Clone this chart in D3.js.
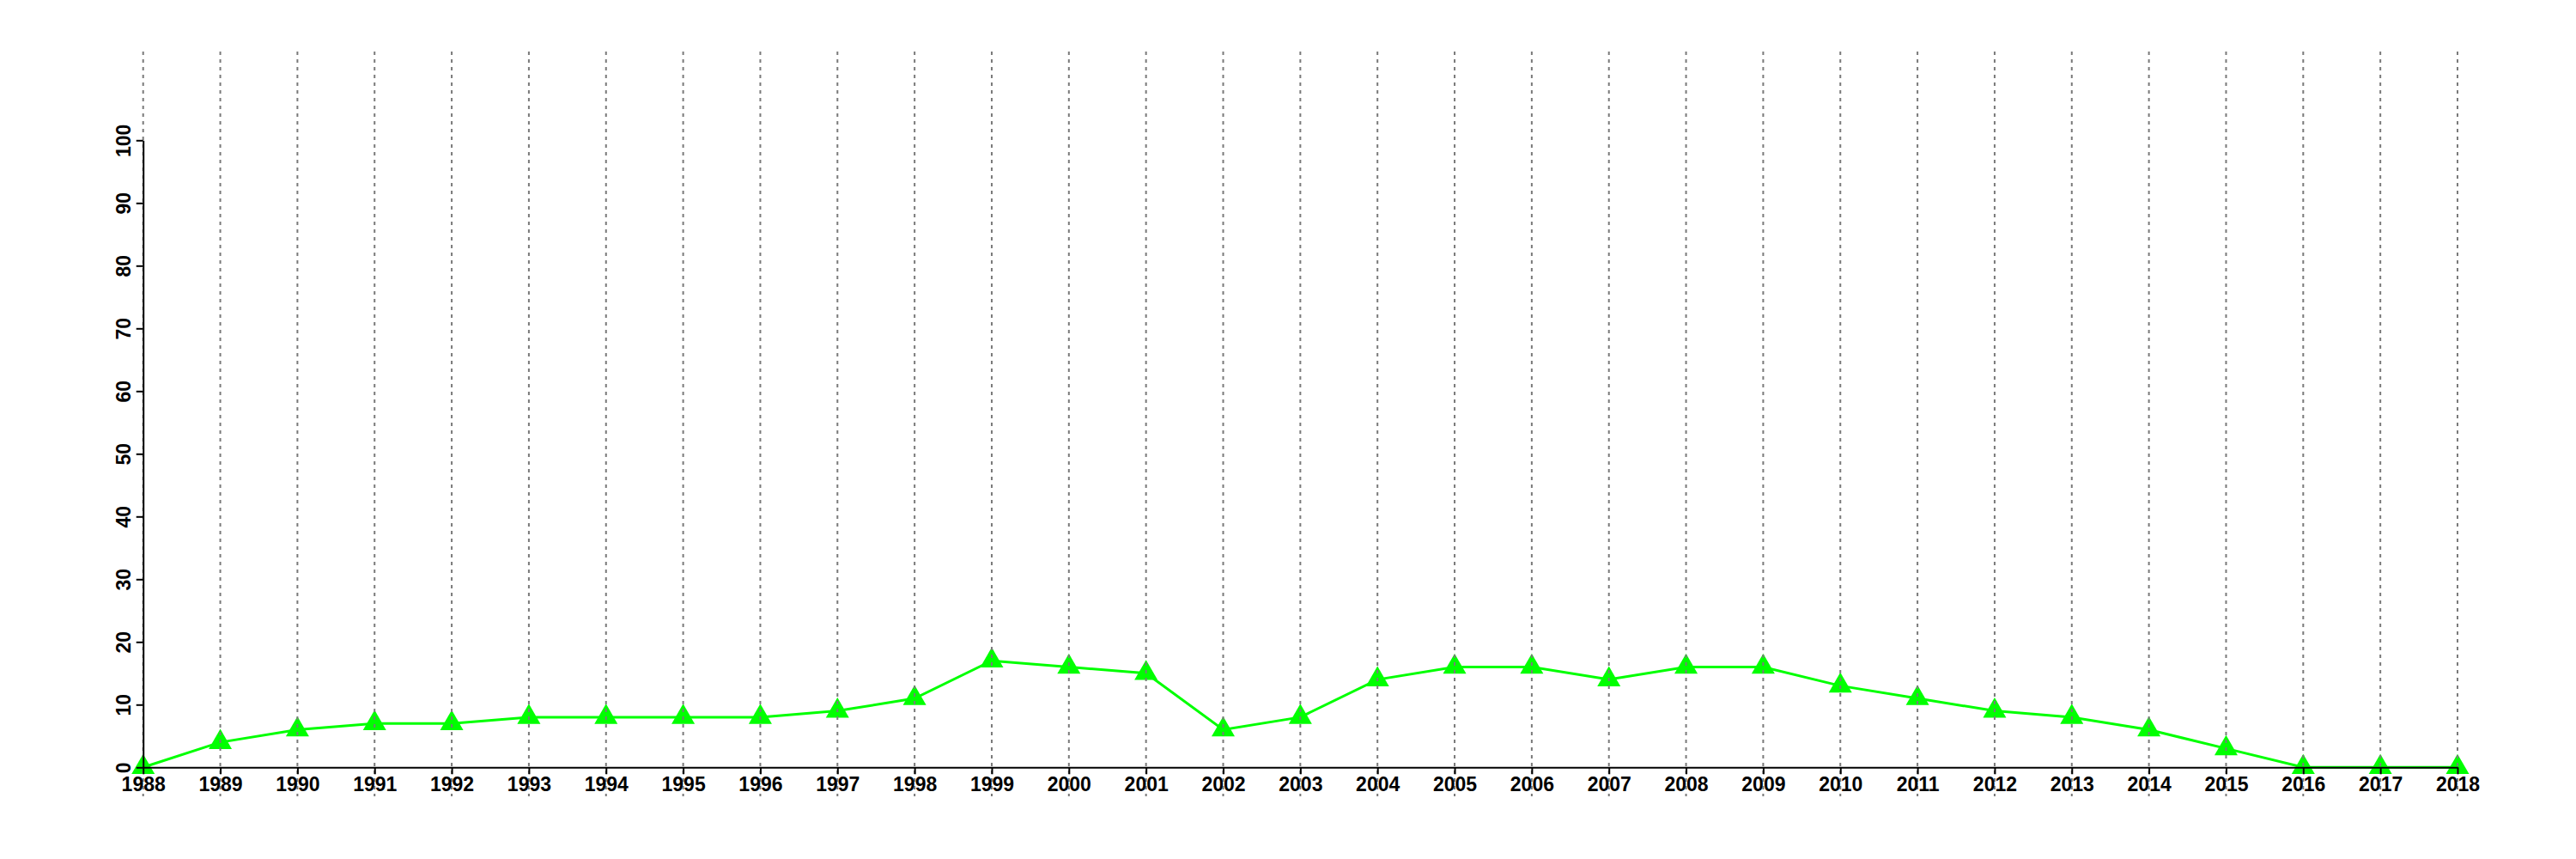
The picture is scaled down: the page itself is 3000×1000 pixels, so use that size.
<!DOCTYPE html>
<html>
<head>
<meta charset="utf-8">
<script src="https://cdn.jsdelivr.net/npm/d3@7"></script>
<style>
  html, body { margin: 0; padding: 0; background: #fff; }
  svg { display: block; }
  text { font-family: "Liberation Sans", Arial, sans-serif; font-weight: bold; }
</style>
</head>
<body>
<svg id="chart" width="3000" height="1000"></svg>
<script>
const years = [1988,1989,1990,1991,1992,1993,1994,1995,1996,1997,1998,1999,2000,2001,2002,2003,2004,2005,2006,2007,2008,2009,2010,2011,2012,2013,2014,2015,2016,2017,2018];
const values = [0,4,6,7,7,8,8,8,8,9,11,17,16,15,6,8,14,16,16,14,16,16,13,11,9,8,6,3,0,0,0];
const yTicks = [0,10,20,30,40,50,60,70,80,90,100];

const svg = d3.select("#chart");
const x = d3.scaleLinear().domain([1988, 2018]).range([166.7, 2862]);
const y = d3.scaleLinear().domain([0, 100]).range([893.3, 163.3]);

const data = years.map((yr, i) => ({ year: yr, value: values[i] }));

// series line
svg.append("path")
  .datum(data)
  .attr("fill", "none")
  .attr("stroke", "#00ff00")
  .attr("stroke-width", 3)
  .attr("d", d3.line().x(d => x(d.year)).y(d => y(d.value)));

// triangle markers
svg.append("g").selectAll("path")
  .data(data)
  .join("path")
  .attr("transform", d => `translate(${x(d.year)},${y(d.value)})`)
  .attr("d", d3.symbol().type(d3.symbolTriangle).size(316))
  .attr("fill", "#00ff00");

// vertical dotted grid lines
svg.append("g").selectAll("line")
  .data(years)
  .join("line")
  .attr("x1", d => x(d)).attr("x2", d => x(d))
  .attr("y1", 60).attr("y2", 927)
  .attr("stroke", "#7a7a7a")
  .attr("stroke-width", 2)
  .attr("stroke-dasharray", "4,5");

// x axis
const gx = svg.append("g")
  .attr("transform", `translate(0,${y(0)})`)
  .call(d3.axisBottom(x).tickValues(years).tickFormat(d3.format("d")).tickSize(8).tickSizeOuter(0).tickPadding(3));
gx.selectAll("path, line").attr("stroke", "#000").attr("stroke-width", 2);
gx.selectAll("text").attr("font-size", 23).attr("fill", "#000")
  .style("font-family", "'Liberation Sans', Arial, sans-serif").style("font-weight", "bold");

// y axis
const gy = svg.append("g")
  .attr("transform", `translate(${x(1988)},0)`)
  .call(d3.axisLeft(y).tickValues(yTicks).tickSize(8).tickSizeOuter(0));
gy.selectAll("path, line").attr("stroke", "#000").attr("stroke-width", 2);
gy.selectAll("text")
  .attr("transform", "rotate(-90)")
  .attr("x", 0).attr("y", -15).attr("dy", 0)
  .attr("text-anchor", "middle")
  .attr("font-size", 23).attr("fill", "#000")
  .style("font-family", "'Liberation Sans', Arial, sans-serif").style("font-weight", "bold");
gx.select(".domain").raise();
</script>
</body>
</html>
